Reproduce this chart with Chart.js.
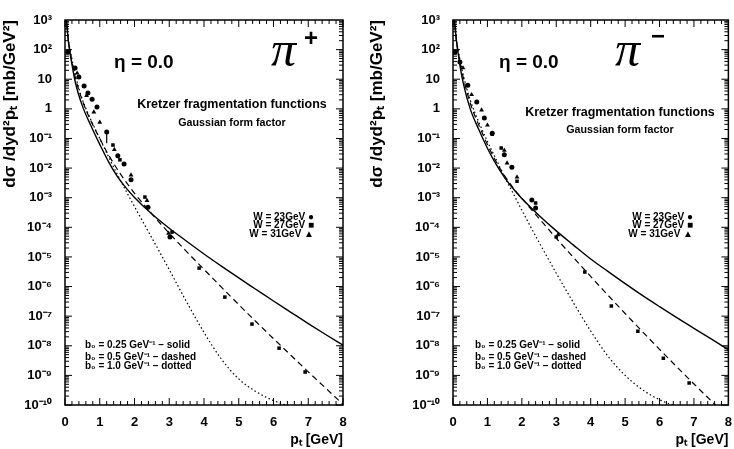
<!DOCTYPE html>
<html>
<head>
<meta charset="utf-8">
<script src="https://cdn.jsdelivr.net/npm/chart.js@4.4.1/dist/chart.umd.min.js"></script>
<style>
  body { margin: 0; background: #fff; }
  .panel { position: absolute; top: 0; width: 367px; height: 449px; }
  #left { left: 0; }
  #right { left: 367px; }
</style>
</head>
<body>
<div class="panel" id="left"><canvas id="piPlus"></canvas></div>
<div class="panel" id="right"><canvas id="piMinus"></canvas></div>
<script>
// axis ticks
const yTicks = [1e-10, 1e-9, 1e-8, 1e-7, 1e-6, 1e-5, 1e-4, 1e-3, 1e-2, 1e-1, 1, 10, 1e2, 1e3];
const yTickLabels = ['10⁻¹⁰', '10⁻⁹', '10⁻⁸', '10⁻⁷', '10⁻⁶', '10⁻⁵', '10⁻⁴', '10⁻³', '10⁻²', '10⁻¹', '1', '10', '10²', '10³'];
const xTicks = [0, 1, 2, 3, 4, 5, 6, 7, 8];

// pt grid of the curves (b0 = 0.25 solid, 0.5 dashed, 1.0 dotted)
const curveX = [0.03, 0.1, 0.2, 0.3, 0.5, 0.75, 1.0, 1.25, 1.5, 1.75, 2.0, 2.5, 3.0, 3.5, 4.0, 4.5, 5.0, 5.5, 6.0, 6.5, 7.0, 7.5, 8.0];
const dotX = [0.03, 0.1, 0.2, 0.3, 0.5, 0.75, 1.0, 1.25, 1.5, 1.75, 2.0, 2.25, 2.5, 2.75, 3.0, 3.5, 4.0, 4.5, 5.0, 5.5, 6.0, 6.5, 7.0];

// pi+ curves
const plusSolid = [1.26e3, 1.78e2, 3.16e1, 7.59, 1.26, 2.63e-1, 6.31e-2, 1.66e-2, 5.37e-3, 2.19e-3, 1.02e-3, 2.82e-4, 9.33e-5, 3.39e-5, 1.26e-5, 4.9e-6, 1.95e-6, 7.94e-7, 3.24e-7, 1.35e-7, 5.62e-8, 2.4e-8, 1.05e-8];
const plusDash = [1.58e3, 2.0e2, 4.0e1, 1.12e1, 1.9, 3.8e-1, 1.0e-1, 2.82e-2, 9.33e-3, 3.47e-3, 1.41e-3, 2.82e-4, 6.31e-5, 1.51e-5, 3.8e-6, 9.55e-7, 2.45e-7, 6.46e-8, 1.74e-8, 4.79e-9, 1.32e-9, 3.72e-10, 1.05e-10];
const plusDot = [1.58e3, 2.24e2, 4.79e1, 1.35e1, 2.09, 4.17e-1, 1.0e-1, 2.45e-2, 6.31e-3, 1.74e-3, 5.01e-4, 1.48e-4, 4.37e-5, 1.29e-5, 3.72e-6, 3.02e-7, 2.82e-8, 3.55e-9, 7.59e-10, 2.82e-10, 1.41e-10, 8.91e-11, 6.31e-11];

// pi+ data, W = 23, 27, 31 GeV
const plus23X = [0.09, 0.29, 0.40, 0.55, 0.66, 0.78, 0.92, 1.20, 1.52, 1.70, 1.90, 2.39, 3.02];
const plus23Y = [83, 24, 12, 5.9, 3.4, 2.1, 1.15, 0.166, 0.026, 0.0138, 4.0e-3, 4.8e-4, 4.7e-5];
const plus27X = [1.38, 1.58, 2.30, 3.08, 3.86, 4.60, 5.38, 6.16, 6.91];
const plus27Y = [6.0e-2, 1.9e-2, 1.05e-3, 6.9e-5, 4.2e-6, 4.4e-7, 5.4e-8, 8.3e-9, 1.3e-9];
const plus31X = [0.35, 0.62, 0.83, 1.00, 1.42, 1.90, 2.36, 2.98];
const plus31Y = [16, 2.8, 0.78, 0.35, 0.042, 5.8e-3, 8.0e-4, 6.3e-5];
const plusErrX = [1.20, 1.20];
const plusErrY = [0.19, 0.069];

// pi- curves
const minusSolid = [1.26e3, 2.0e2, 3.02e1, 7.24, 1.0, 2.0e-1, 4.68e-2, 1.35e-2, 4.79e-3, 2.0e-3, 9.33e-4, 2.51e-4, 7.59e-5, 2.51e-5, 8.51e-6, 3.24e-6, 1.26e-6, 5.01e-7, 2.09e-7, 8.91e-8, 3.89e-8, 1.7e-8, 7.41e-9];
const minusDash = [1.58e3, 2.0e2, 3.98e1, 1.12e1, 1.58, 2.82e-1, 6.31e-2, 1.66e-2, 5.5e-3, 2.14e-3, 9.55e-4, 2.0e-4, 4.27e-5, 9.55e-6, 2.19e-6, 5.13e-7, 1.23e-7, 3.02e-8, 7.59e-9, 1.95e-9, 5.13e-10, 1.38e-10, 3.8e-11];
const minusDot = [1.58e3, 2.24e2, 4.79e1, 1.35e1, 2.0, 3.55e-1, 7.94e-2, 2.0e-2, 5.01e-3, 1.38e-3, 3.8e-4, 1.07e-4, 3.09e-5, 9.33e-6, 2.82e-6, 2.82e-7, 3.16e-8, 4.47e-9, 1.0e-9, 3.31e-10, 1.51e-10, 8.91e-11, 6.31e-11];

// pi- data
const minus23X = [0.06, 0.20, 0.43, 0.69, 0.91, 1.14, 1.49, 1.71, 2.29, 2.40];
const minus23Y = [83, 38, 6.3, 1.7, 0.49, 0.15, 0.028, 0.0107, 8.3e-4, 4.5e-4];
const minus27X = [1.14, 1.40, 1.86, 2.40, 3.00, 3.83, 4.60, 5.37, 6.11, 6.86];
const minus27Y = [0.14, 0.048, 3.6e-3, 6.6e-4, 4.7e-5, 3.1e-6, 2.2e-7, 3.1e-8, 3.8e-9, 5.5e-10];
const minus31X = [0.29, 0.54, 0.83, 1.00, 1.49, 1.57, 1.86, 3.05];
const minus31Y = [24, 3.0, 0.91, 0.28, 0.04, 0.0148, 5.0e-3, 5.6e-5];

const FONT = '"Liberation Sans", Arial, sans-serif';
const pts = (xs, ys) => xs.map((x, i) => ({ x: x, y: ys[i] }));

// frame with inward ticks on all four sides
const frameTicks = {
  id: 'frameTicks',
  afterDatasetsDraw(chart) {
    const { ctx, chartArea: a, scales: { x, y } } = chart;
    ctx.save();
    ctx.strokeStyle = '#000';
    ctx.lineWidth = 1;
    ctx.beginPath();
    for (let i = 0; i <= 40; i++) {
      const px = x.getPixelForValue(i * 0.2);
      const len = i % 5 === 0 ? 7 : 4;
      ctx.moveTo(px, a.bottom); ctx.lineTo(px, a.bottom - len);
      ctx.moveTo(px, a.top); ctx.lineTo(px, a.top + len);
    }
    for (let e = -10; e < 3; e++) {
      for (let m = 1; m < 10; m++) {
        const py = y.getPixelForValue(m * Math.pow(10, e));
        const len = m === 1 ? 7 : 4;
        ctx.moveTo(a.left, py); ctx.lineTo(a.left + len, py);
        ctx.moveTo(a.right, py); ctx.lineTo(a.right - len, py);
      }
    }
    ctx.stroke();
    ctx.lineWidth = 1.5;
    ctx.strokeRect(a.left, a.top, a.right - a.left, a.bottom - a.top);
    ctx.restore();
  }
};

// texts inside the frame
const panelText = {
  id: 'panelText',
  afterDraw(chart, args, opts) {
    const { ctx, chartArea: a } = chart;
    ctx.save();
    ctx.fillStyle = '#000';
    ctx.textBaseline = 'middle';
    opts.items.forEach(it => {
      ctx.font = it.font;
      ctx.textAlign = it.align || 'left';
      ctx.fillText(it.t, a.left + it.dx, a.top + it.dy);
    });
    ctx.restore();
  }
};

function curve(data, dash, width) {
  return { data: data, showLine: true, pointRadius: 0, borderColor: '#000', borderWidth: width,
           borderDash: dash, cubicInterpolationMode: 'monotone', fill: false };
}
function marks(data, style, r) {
  return { data: data, showLine: false, pointStyle: style, pointRadius: r,
           backgroundColor: '#000', borderColor: '#000', borderWidth: 0 };
}

function makePanel(id, yAxisWidth, padRight, sets, items) {
  return new Chart(document.getElementById(id), {
    type: 'scatter',
    data: { datasets: sets },
    options: {
      responsive: true,
      maintainAspectRatio: false,
      animation: false,
      layout: { padding: { top: 20, right: padRight, left: 0, bottom: 0 } },
      plugins: { legend: { display: false }, tooltip: { enabled: false }, panelText: { items: items } },
      scales: {
        x: {
          type: 'linear', min: 0, max: 8,
          afterBuildTicks: s => { s.ticks = xTicks.map(v => ({ value: v })); },
          ticks: { color: '#000', font: { family: FONT, size: 13, weight: 'bold' }, padding: 2, maxRotation: 0 },
          grid: { display: false },
          border: { display: false },
          title: { display: true, text: 'pₜ [GeV]', align: 'end', color: '#000',
                   font: { family: FONT, size: 14, weight: 'bold' }, padding: { top: 2, bottom: 0 } },
          afterFit: s => { s.height = 44; }
        },
        y: {
          type: 'logarithmic', min: 1e-10, max: 1e3,
          afterBuildTicks: s => { s.ticks = yTicks.map(v => ({ value: v })); },
          ticks: { color: '#000', font: { family: FONT, size: 13, weight: 'bold' }, padding: 5,
                   callback: (v, i) => yTickLabels[i] },
          grid: { display: false },
          border: { display: false },
          title: { display: true, text: 'dσ /dyd²pₜ [mb/GeV²]', align: 'end', color: '#000',
                   font: { family: FONT, size: 17, weight: 'bold' }, padding: { top: 0, bottom: 2 } },
          afterFit: s => { s.width = yAxisWidth; }
        }
      }
    },
    plugins: [frameTicks, panelText]
  });
}

const small = 'bold 10px ' + FONT;
const mid = 'bold 12.5px ' + FONT;
const piFont = 'italic 50px "Liberation Serif", serif';

makePanel('piPlus', 65, 24, [
  curve(pts(curveX, plusSolid), [], 1.4),
  curve(pts(curveX, plusDash), [6, 4], 1.2),
  curve(pts(dotX, plusDot), [1.5, 2.5], 1.2),
  curve(pts(plusErrX, plusErrY), [], 1.2),
  marks(pts(plus23X, plus23Y), 'circle', 2.5),
  marks(pts(plus27X, plus27Y), 'rect', 2.5),
  marks(pts(plus31X, plus31Y), 'triangle', 2.8)
], [
  { t: 'η = 0.0', dx: 49, dy: 43, font: 'bold 19px ' + FONT },
  { t: 'π', dx: 206, dy: 33, font: piFont },
  { t: '+', dx: 239, dy: 19, font: 'bold 24px ' + FONT },
  { t: 'Kretzer fragmentation functions', dx: 167, dy: 85, font: mid, align: 'center' },
  { t: 'Gaussian form factor', dx: 167, dy: 103, font: 'bold 10.7px ' + FONT, align: 'center' },
  { t: 'W = 23GeV ●', dx: 249, dy: 197, font: small, align: 'right' },
  { t: 'W = 27GeV ■', dx: 249, dy: 205, font: small, align: 'right' },
  { t: 'W = 31GeV ▲', dx: 249, dy: 214, font: small, align: 'right' },
  { t: 'b₀ = 0.25 GeV⁻¹ – solid', dx: 20, dy: 325, font: small },
  { t: 'b₀ = 0.5 GeV⁻¹ – dashed', dx: 20, dy: 337, font: small },
  { t: 'b₀ = 1.0 GeV⁻¹ – dotted', dx: 20, dy: 346, font: small }
]);

makePanel('piMinus', 86, 1, [
  curve(pts(curveX, minusSolid), [], 1.4),
  curve(pts(curveX, minusDash), [6, 4], 1.2),
  curve(pts(dotX, minusDot), [1.5, 2.5], 1.2),
  marks(pts(minus23X, minus23Y), 'circle', 2.5),
  marks(pts(minus27X, minus27Y), 'rect', 2.5),
  marks(pts(minus31X, minus31Y), 'triangle', 2.8)
], [
  { t: 'η = 0.0', dx: 46, dy: 43, font: 'bold 19px ' + FONT },
  { t: 'π', dx: 162, dy: 33, font: piFont },
  { t: '−', dx: 198, dy: 17, font: 'bold 24px ' + FONT },
  { t: 'Kretzer fragmentation functions', dx: 167, dy: 93, font: mid, align: 'center' },
  { t: 'Gaussian form factor', dx: 167, dy: 110, font: 'bold 10.7px ' + FONT, align: 'center' },
  { t: 'W = 23GeV ●', dx: 240, dy: 197, font: small, align: 'right' },
  { t: 'W = 27GeV ■', dx: 240, dy: 205, font: small, align: 'right' },
  { t: 'W = 31GeV ▲', dx: 240, dy: 214, font: small, align: 'right' },
  { t: 'b₀ = 0.25 GeV⁻¹ – solid', dx: 22, dy: 325, font: small },
  { t: 'b₀ = 0.5 GeV⁻¹ – dashed', dx: 22, dy: 337, font: small },
  { t: 'b₀ = 1.0 GeV⁻¹ – dotted', dx: 22, dy: 346, font: small }
]);
</script>
</body>
</html>
